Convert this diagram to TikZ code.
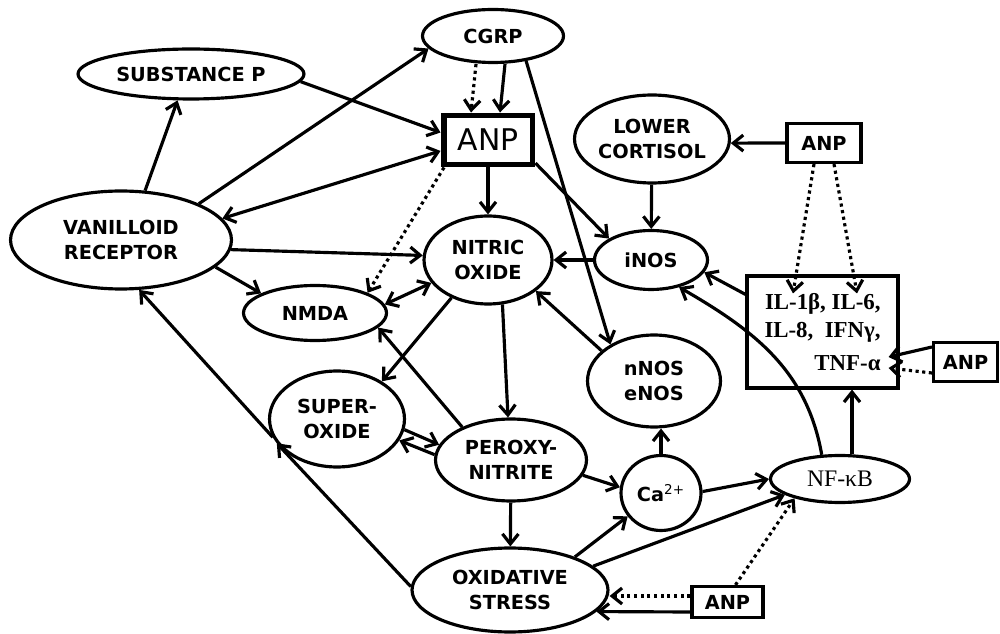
\documentclass[tikz,border=0pt]{standalone}
\usepackage{fontspec}
\setmainfont{DejaVu Sans}
\newfontfamily\timesfont{Liberation Serif}
\usetikzlibrary{arrows.meta,shapes.geometric}
\tikzset{
	lbl/.style={ellipse, draw, line width=1.8pt, inner sep=-2pt, align=center, font=\fontsize{11}{14}\selectfont\bfseries},
	anpbox/.style={rectangle, draw, line width=1.8pt, inner sep=0pt, font=\fontsize{11}{14}\selectfont\bfseries},
	arr/.style={line width=1.8pt, -{Straight Barb[length=2mm,width=3.2mm]}},
	darr/.style={arr, {Straight Barb[length=2mm,width=3.2mm]}-{Straight Barb[length=2mm,width=3.2mm]}},
	dotarr/.style={arr, dotted}
}

\begin{document}
\begin{tikzpicture}[x=0.02cm, y=-0.02cm]
		%%%%% START %%%%%
		\useasboundingbox (0,0) rectangle (1000,634);
		
		\node[lbl, minimum width=2.82cm, minimum height=1.06cm] (cgrp) at (493,36) {CGRP};
		\node[lbl, minimum width=4.52cm, minimum height=1.0cm] (subp) at (191,74) {SUBSTANCE P};
		\node[draw, line width=3.4pt, minimum width=1.78cm, minimum height=0.98cm, font=\fontsize{17}{20}\selectfont] (anp) at (488,140) {ANP};
		\node[lbl, minimum width=4.42cm, minimum height=1.96cm] (vr) at (121,240) {VANILLOID\\RECEPTOR};
		\node[lbl, minimum width=2.56cm, minimum height=1.76cm] (no) at (488,260) {NITRIC\\OXIDE};
		\node[lbl, minimum width=2.86cm, minimum height=1.1cm] (nmda) at (315,313) {NMDA};
		\node[lbl, minimum width=3.1cm, minimum height=1.76cm] (lc) at (652,139) {LOWER\\CORTISOL};
		\node[anpbox, minimum width=1.48cm, minimum height=0.78cm] (anpa) at (824,143) {ANP};
		\node[lbl, minimum width=2.26cm, minimum height=1.18cm] (inos) at (651,260) {iNOS};
		
		\node[draw, line width=1.8pt, minimum width=3.02cm, minimum height=2.24cm, inner sep=0pt, align=right,
			font=\timesfont\bfseries\fontsize{13}{16}\selectfont] (cyto) at (822.5,332) {IL-1β, IL-6,\\IL-8,~~IFNγ,\\[3pt]TNF-α};
		\node[anpbox, minimum width=1.28cm, minimum height=0.78cm] (anpb) at (965.5,362) {ANP};
		
		\node[lbl, minimum width=2.66cm, minimum height=1.84cm] (nos) at (654,381) {nNOS\\eNOS};
		\node[lbl, minimum width=2.7cm, minimum height=1.92cm] (so) at (337,419) {SUPER-\\OXIDE};
		\node[lbl, minimum width=3.02cm, minimum height=1.64cm] (pn) at (511,460) {PEROXY-\\NITRITE};
		\node[lbl, minimum width=1.6cm, minimum height=1.5cm] (ca) at (661,493) {Ca\textsuperscript{\mdseries 2+}};
		\node[lbl, minimum width=2.78cm, minimum height=0.94cm, font=\timesfont\fontsize{13.5}{16}\selectfont] (nfkb) at (840,479) {NF-κB};
		\node[lbl, minimum width=3.92cm, minimum height=1.68cm] (os) at (510,590) {OXIDATIVE\\STRESS};
		\node[anpbox, minimum width=1.42cm, minimum height=0.62cm] (anpc) at (727.5,602) {ANP};
		
		\coordinate (nfup) at ([xshift=0.24cm]nfkb.north);
		\coordinate (anpcdot) at ([yshift=0.12cm]anpc.west);
		\coordinate (tnfa) at ([shift={(-0.22cm,-0.5cm)}]cyto.east);
		\coordinate (tnfb) at ([shift={(-0.22cm,-0.72cm)}]cyto.east);
		
		% vanilloid receptor
		\draw[arr] (vr.64) -- (subp.243);
		\draw[arr] (vr.25) -- (cgrp.191);
		\draw[arr] (subp.356) -- (anp.171);
		\draw[darr] (anp.193) -- (vr.12);
		\draw[arr] (vr.355) -- (no.176);
		\draw[arr] (vr.-16) -- (nmda.160);
		
		% ANP and CGRP
		\draw[dotarr] (anp.212) -- (nmda.21);
		\draw[dotarr] ([xshift=-0.34cm]cgrp.south) -- ([xshift=-0.34cm]anp.north);
		\draw[arr] ([xshift=0.24cm]cgrp.south) -- ([xshift=0.24cm]anp.north);
		\draw[arr] (anp) -- (no);
		\draw[arr] (anp.-26) -- (inos.153);
		\draw[arr] (cgrp.-37) -- (nos.140);
		
		% cortisol and cytokines
		\draw[arr] (lc) -- (inos);
		\draw[arr] (anpa.west) -- (lc.-3);
		\draw[dotarr] ([xshift=-0.2cm]anpa.south) -- ([shift={(-0.59cm,-0.38cm)}]cyto.north);
		\draw[dotarr] ([xshift=0.2cm]anpa.south) -- ([shift={(0.69cm,-0.38cm)}]cyto.north);
		\draw[arr] ([yshift=0.3cm]anpb.west) -- (tnfa);
		\draw[dotarr] ([yshift=-0.22cm]anpb.west) -- (tnfb);
		\draw[arr] (cyto.154) -- (inos.-13);
		
		% nitric oxide
		\draw[arr] (inos) -- (no);
		\draw[darr] (no.202) -- (nmda.7);
		\draw[arr] (no.226) -- (so.40);
		\draw[arr] (no.288) -- (pn.94);
		\draw[arr] (nos.150) -- (no.-33);
		
		% peroxynitrite
		\draw[arr] (pn.146) -- (nmda.-13);
		\draw[arr] (so.-9) -- (pn.168);
		\draw[arr] (pn.176) -- (so.-19);
		\draw[arr] (pn.-12) -- (ca.172);
		\draw[arr] (pn) -- (os);
		
		% oxidative stress
		\draw[arr] (os.27) -- (ca.215);
		\draw[arr] (os.16) -- (nfkb.196);
		\draw[arr] (ca.north) -- (ca.north |- nos.south);
		\draw[arr] (ca.2) -- (nfkb.west);
		\draw[arr] (nfup) -- (nfup |- cyto.south);
		\draw[arr] (nfkb.127) to[out=100, in=-30] (inos.-44);
		\draw[arr] (so.196) -- (vr.290);
		\draw[arr] (os.178) -- (so.202);
		
		\draw[dotarr] (anpcdot) -- (anpcdot -| os.east);
		\draw[arr] ([yshift=-0.2cm]anpc.west) -- (os.-14);
		\draw[dotarr] ([xshift=0.16cm]anpc.north) -- (nfkb.203);
		
		%%%%% END %%%%%
\end{tikzpicture}
\end{document}
